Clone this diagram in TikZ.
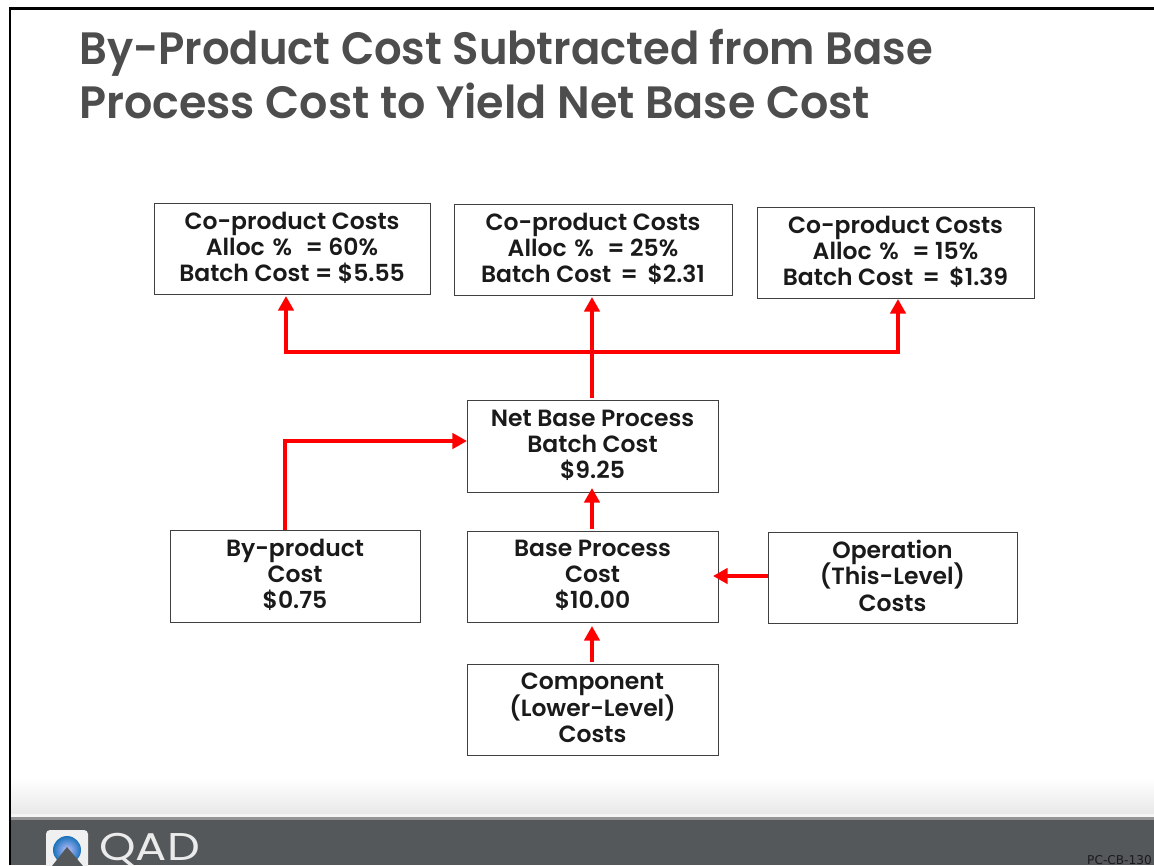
\documentclass[tikz,border=0pt]{standalone}
\usepackage{fontspec}
\setmainfont{Poppins}[BoldFont={* SemiBold}]
\newfontfamily\tagfont{DejaVu Sans}
\usetikzlibrary{arrows.meta,calc}
\definecolor{titlegrey}{HTML}{4D4D4D}
\definecolor{bandgrey}{HTML}{54585A}
\definecolor{boxline}{HTML}{404040}
\definecolor{inkblack}{HTML}{1A1A1A}
\definecolor{arrowred}{HTML}{FF0000}
\newcommand{\tightlines}{\lineskiplimit=-100pt\relax}
\newcommand{\upnudge}{\rule[-3pt]{0pt}{0pt}}
\newcommand{\upnudgeb}{\rule[-2.6pt]{0pt}{0pt}}
\tikzset{
  x=0.75pt,y=-0.75pt,
  costbox/.style={draw=boxline,line width=0.75pt,fill=white,text=inkblack,inner sep=0pt,outer sep=0pt,
    align=center,font=\fontsize{17.6}{19.6}\selectfont\bfseries\tightlines},
  flow/.style={draw=arrowred,line width=3.5pt,-{Triangle[length=11pt,width=11.5pt]},shorten >=1.5pt},
  titletext/.style={text=titlegrey,anchor=base west,inner sep=0pt,font=\fontsize{34}{34}\selectfont\bfseries},
}
\newcommand{\costnode}[6]{\node[costbox,minimum width=#4*0.75pt,minimum height=#5*0.75pt] (#1) at (#2,#3) {#6};}
\newcommand{\pctline}[1]{Alloc\,\,\%\,\, = #1\%}
\begin{document}
\begin{tikzpicture}
\useasboundingbox (0,0) rectangle (1154,865);
\fill[white] (0,0) rectangle (1154,865);
% slide frame
\draw[black,line width=1.6pt] (10,865) -- (10,8.5) -- (1154,8.5);
% footer band
\shade[top color=white,bottom color=black!9] (11,778) rectangle (1154,814);
\fill[white!96!black] (11,814) rectangle (1154,817);
\fill[black!42] (11,817) rectangle (1154,820);
\fill[bandgrey] (11,820) rectangle (1154,865);
% logo
\begin{scope}
\clip (11,820) rectangle (1154,865);
\fill[white!94!black,rounded corners=3pt] (46,830) rectangle (88,880);
\shade[inner color=blue!25!white,outer color=blue!45!cyan!70!black!90,shading=radial] (67,850) circle (14);
\fill[bandgrey] (67,847) -- (83,866) -- (52,866) -- cycle;
\end{scope}
\node[text=white!92!black,anchor=base west,inner sep=0pt,
  font=\fontsize{29}{29}\selectfont,xscale=1.2] (qad) at (99,860) {QAD};
\node[text=inkblack,anchor=base east,inner sep=0pt,font=\tagfont\fontsize{9.1}{9.1}\selectfont] (tag) at (1152,864) {PC-CB-130};
% title
\node[titletext,xscale=0.955] (t1) at (79,64) {By-Product Cost Subtracted from Base};
\node[titletext,xscale=0.98] (t2) at (79,118) {Process Cost to Yield Net Base Cost};
% boxes
\costnode{c1}{292}{248.5}{276}{91}{Co-product Costs\\\pctline{60}\\Batch Cost = \$5.55\upnudge}
\costnode{c2}{593}{249.5}{278}{91}{Co-product Costs\\\pctline{25}\\Batch Cost\, =\, \$2.31\upnudge}
\costnode{c3}{895.5}{252.5}{277}{91}{Co-product Costs\\\pctline{15}\\Batch Cost\, =\, \$1.39\upnudge}
\costnode{net}{592.5}{446}{251}{92}{Net Base Process\\Batch Cost\\\$9.25\upnudge}
\costnode{by}{295}{576}{250}{92}{By-product\\Cost\\\$0.75\upnudge}
\costnode{base}{592.5}{576.5}{251}{91}{Base Process\\Cost\\\$10.00\upnudge}
\costnode{op}{892.5}{577.5}{249}{91}{Operation\\(This-Level)\\Costs\upnudgeb}
\costnode{comp}{592.5}{709.5}{251}{91}{Component\\(Lower-Level)\\Costs\upnudgeb}
% connectors
\coordinate (busM) at (592,352);
\coordinate (busL) at (286,352);
\coordinate (busR) at (898,352);
\coordinate (c1in) at (286,294);
\coordinate (c3in) at (898,297);
\coordinate (byout) at (285,530);
\coordinate (byturn) at (285,441);
\coordinate (netin) at (469,441);
\coordinate (baseR) at (711,576);
\coordinate (opL) at (768,576);
\coordinate (c2in) at (592,295);
\coordinate (netout) at (592,398);
\coordinate (netbelow) at (592,486);
\coordinate (baseout) at (592,529);
\coordinate (basebelow) at (592,624);
\coordinate (compout) at (592,662);
\draw[flow] (netout) -- (c2in);
\draw[flow] (busM) -- (busL) -- (c1in);
\draw[flow] (busM) -- (busR) -- (c3in);
\draw[flow] (byout) -- (byturn) -- (netin);
\draw[flow] (baseout) -- (netbelow);
\draw[flow] (opL) -- (baseR);
\draw[flow] (compout) -- (basebelow);
\end{tikzpicture}
\end{document}
